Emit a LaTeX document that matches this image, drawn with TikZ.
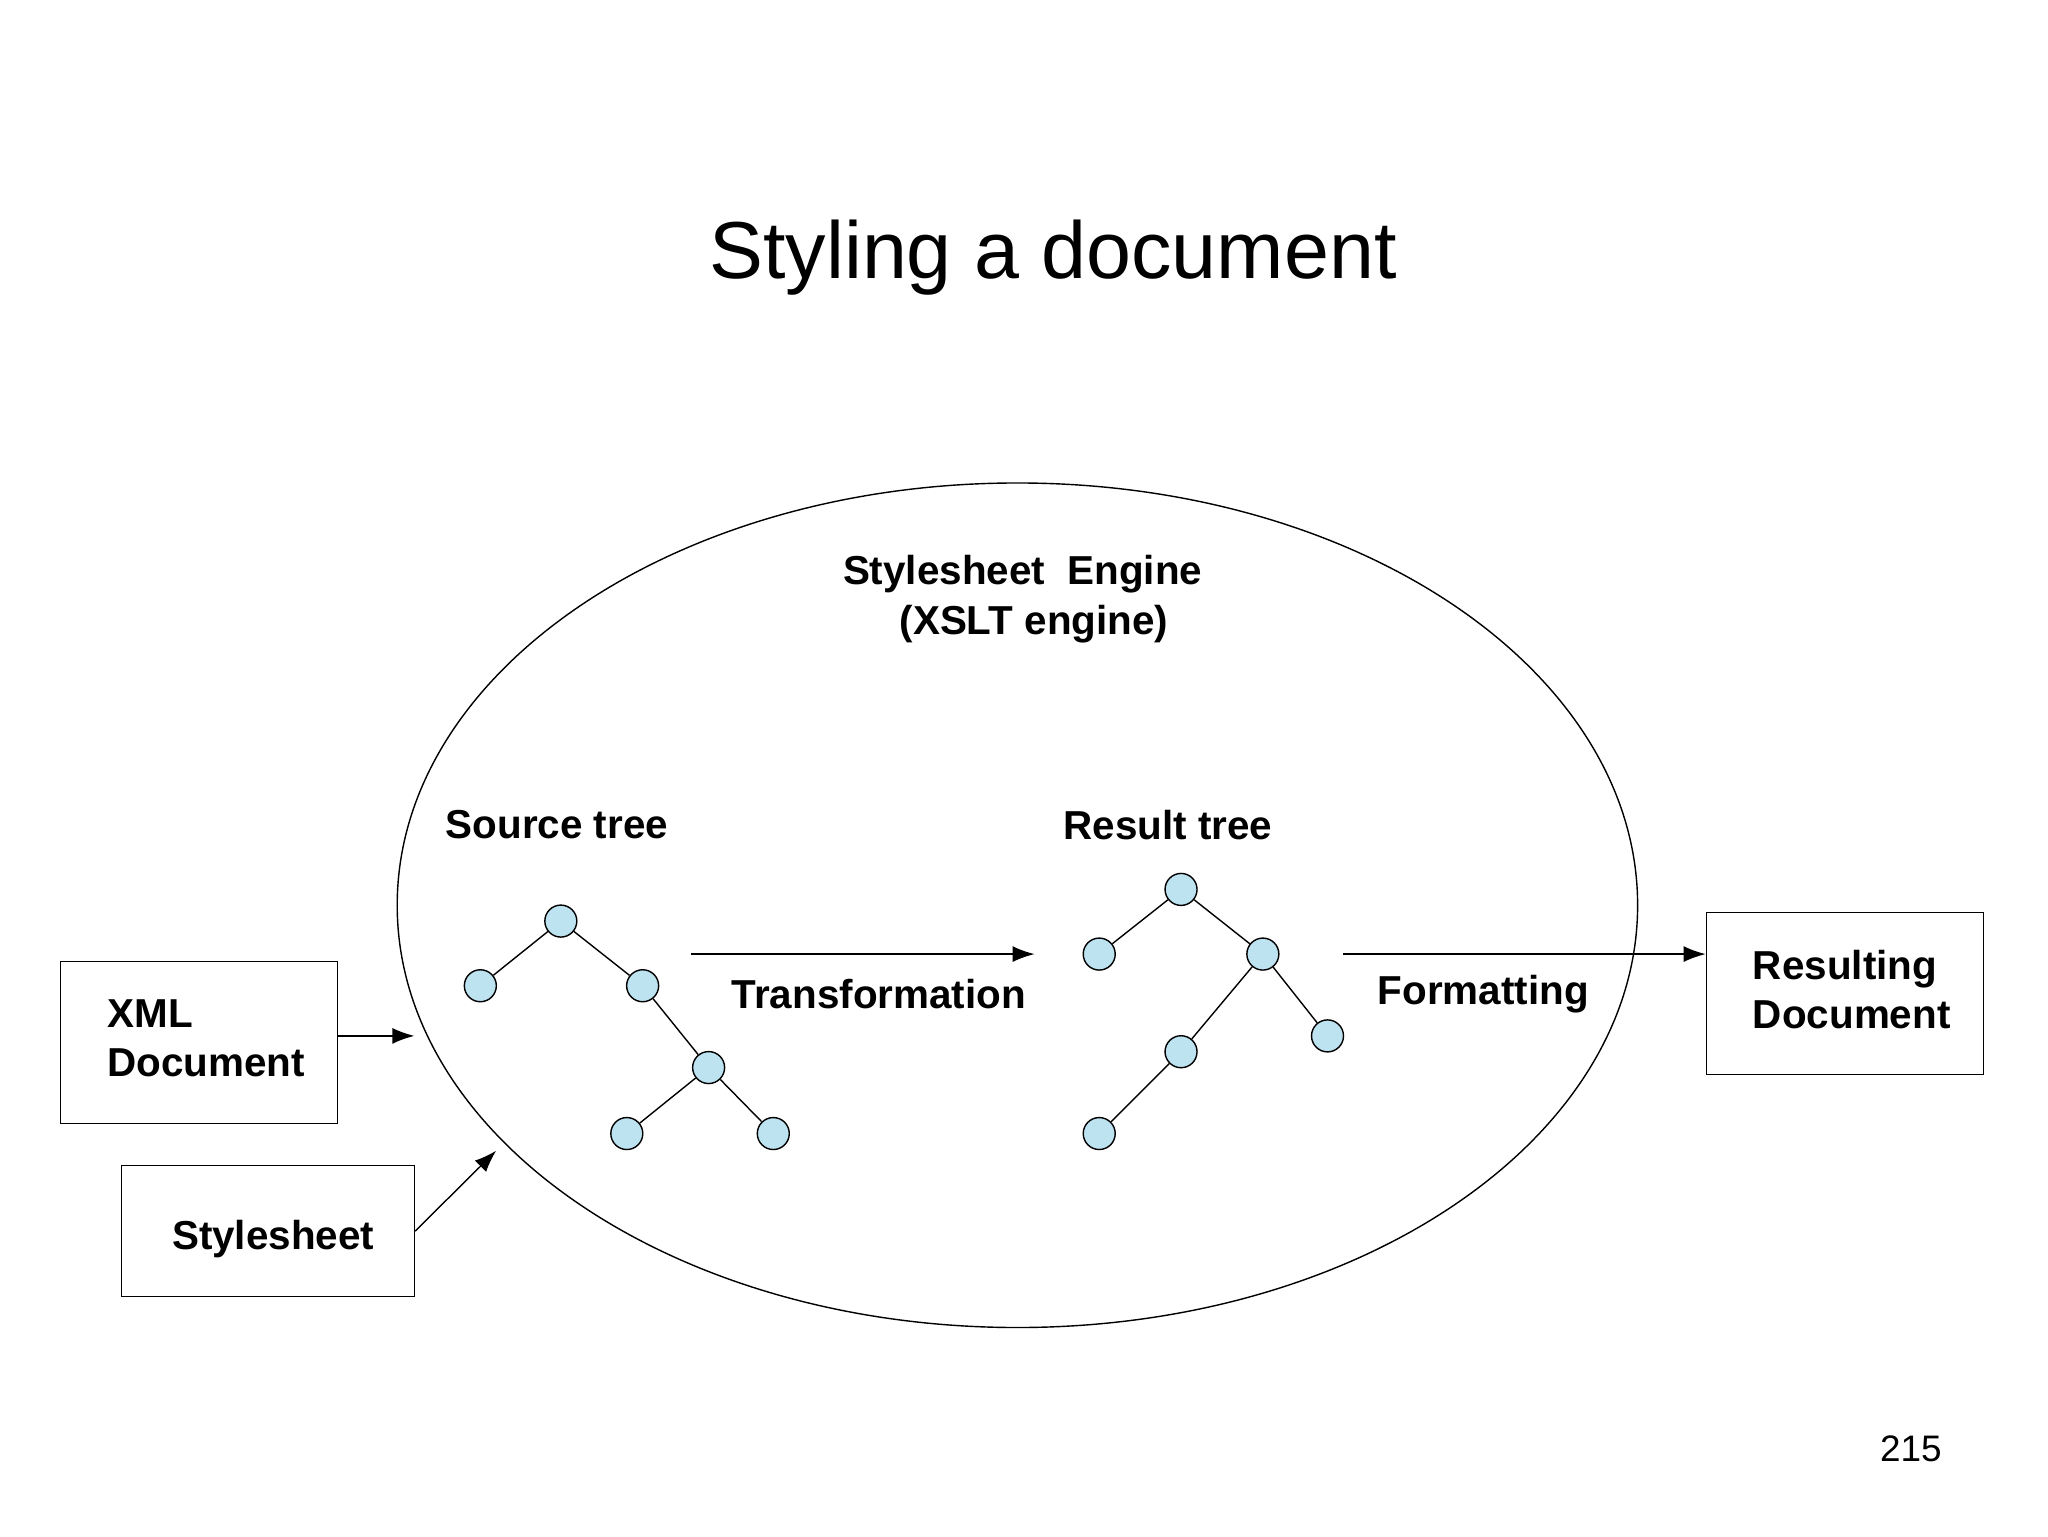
\documentclass[tikz,border=0pt]{standalone}
\usepackage{fontspec}
\setmainfont{Liberation Sans}
\usetikzlibrary{positioning,calc,arrows.meta}
\tikzset{
  leaf/.style={circle, draw, fill=cyan!25!white!90!gray, minimum size=0.32cm, inner sep=0pt},
  lbl/.style={font=\fontsize{11.5}{14}\selectfont\bfseries},
  box/.style={draw, minimum width=2.77cm, minimum height=1.62cm},
  flow/.style={-{Latex[length=2.2mm,width=1.6mm]}}
}
\begin{document}
\begin{tikzpicture}[x=0.0132cm, y=-0.0132cm]
  \useasboundingbox (0,0) rectangle (1552,1164);
  \node[font=\fontsize{23}{28}\selectfont] (title) at (798,195) {Styling a document};
  \draw (771,686) ellipse [x radius=470, y radius=320];
  \node[lbl, align=center] (eng) at (775,454) {Stylesheet\ \ Engine\\\ \ (XSLT engine)};
  \node[lbl] (src) at (422,625) {Source tree};
  \node[lbl] (res) at (885,625) {Result tree};
  % source tree
  \node[leaf] (s0) at (425,698) {};
  \node[leaf] (s1) at (364,747) {};
  \node[leaf] (s2) at (487,747) {};
  \node[leaf] (s3) at (537,809) {};
  \node[leaf] (s4) at (475,859) {};
  \node[leaf] (s5) at (586,859) {};
  \draw (s0) -- (s1) (s0) -- (s2) (s2) -- (s3) (s3) -- (s4) (s3) -- (s5);
  % result tree
  \node[leaf] (r0) at (895,674) {};
  \node[leaf] (r1) at (833,723) {};
  \node[leaf] (r2) at (957,723) {};
  \node[leaf] (r3) at (1006,785) {};
  \node[leaf] (r4) at (895,797) {};
  \node[leaf] (r5) at (833,859) {};
  \draw (r0) -- (r1) (r0) -- (r2) (r2) -- (r3) (r2) -- (r4) (r4) -- (r5);
  % boxes
  \node[box] (xml) at (151,790) {};
  \node[lbl, align=left, anchor=west] (xmlt) at (72,787) {XML\\Document};
  \node[box, minimum width=2.93cm, minimum height=1.31cm] (sty) at (203,933) {};
  \node[lbl] (styt) at (207,939) {Stylesheet};
  \node[box] (out) at (1398,753) {};
  \node[lbl, align=left, anchor=west] (outt) at (1319,750) {Resulting\\Document};
  \node[lbl] (pg) at (1448,1098) {\mdseries\fontsize{10.5}{12}\selectfont 215};
  % arrows
  \coordinate (ta) at (524,723); \coordinate (tb) at (784,723);
  \coordinate (fa) at (1018,723);
  \coordinate (xe) at (314,785); \coordinate (se) at (376,872);
  \draw[flow] (ta) -- (tb);
  \node[lbl] (trn) at (666,753) {Transformation};
  \draw[flow] (fa) -- (out.west |- fa);
  \node[lbl] (fmt) at (1124,753) {Formatting};
  \draw[flow] (xml.east |- xe) -- (xe);
  \draw[flow] (sty.east) -- (se);
\end{tikzpicture}
\end{document}
